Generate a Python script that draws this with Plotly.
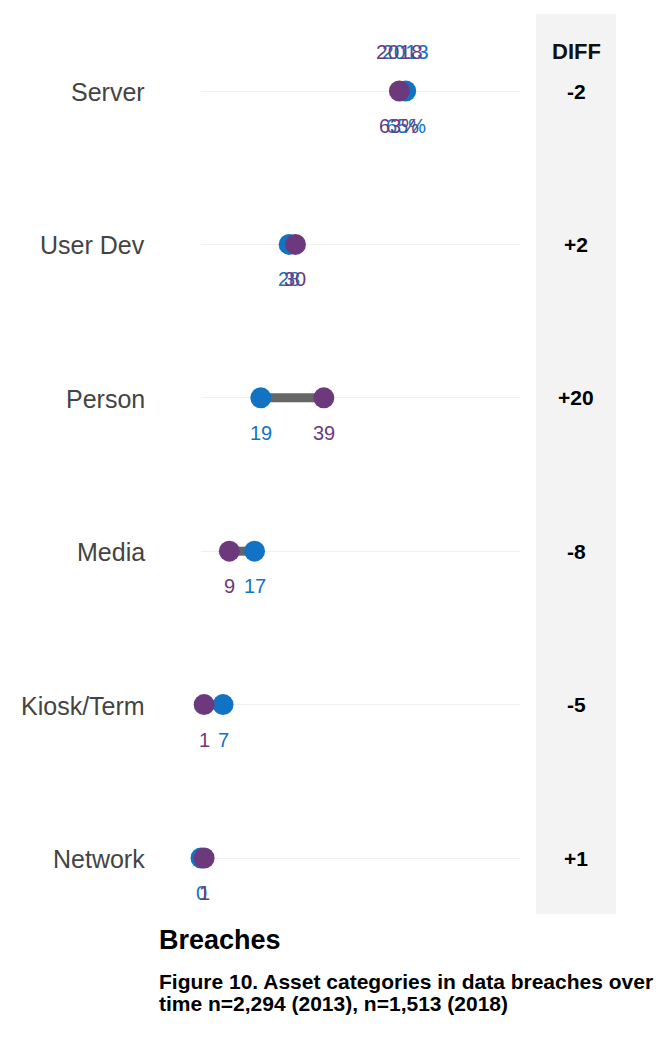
import plotly.graph_objects as go

categories = ["Server", "User Dev", "Person", "Media", "Kiosk/Term", "Network"]
values_2013 = [65, 28, 19, 17, 7, 0]
values_2018 = [63, 30, 39, 9, 1, 1]
label_2013 = ["65%", "28", "19", "17", "7", "0"]
label_2018 = ["63%", "30", "39", "9", "1", "1"]
diffs = ["-2", "+2", "+20", "-8", "-5", "+1"]
title_text = "Breaches"
subtitle_lines = ["Figure 10. Asset categories in data breaches over",
                  "time n=2,294 (2013), n=1,513 (2018)"]

BLUE = "#1273c5"
PURPLE = "#6c3a7c"
GRAY_LINE = "#666666"
FONT = "Liberation Sans, Arial, sans-serif"

W, H = 672, 1056
x0_px, x1_px = 201, 520
row_top, row_step = 91, 153.4
y_top_px = row_top - row_step / 2
y_bot_px = y_top_px + row_step * len(categories)

fig = go.Figure()

# connecting lines
for c, a, b in zip(categories, values_2013, values_2018):
    fig.add_trace(go.Scatter(x=[a, b], y=[c, c], mode="lines", cliponaxis=False,
                             line=dict(color=GRAY_LINE, width=9),
                             showlegend=False, hoverinfo="skip"))

fig.add_trace(go.Scatter(x=values_2013, y=categories, mode="markers", cliponaxis=False,
                         marker=dict(color=BLUE, size=21, line=dict(width=0)),
                         name="2013", showlegend=False))
fig.add_trace(go.Scatter(x=values_2018, y=categories, mode="markers", cliponaxis=False,
                         marker=dict(color=PURPLE, size=21, line=dict(width=0)),
                         name="2018", showlegend=False))

annotations = []
for c, v, t in zip(categories, values_2013, label_2013):
    annotations.append(dict(x=v, y=c, xref="x", yref="y", text=t, showarrow=False,
                            yshift=-35, font=dict(family=FONT, size=20, color=BLUE)))
for c, v, t in zip(categories, values_2018, label_2018):
    annotations.append(dict(x=v, y=c, xref="x", yref="y", text=t, showarrow=False,
                            yshift=-35, font=dict(family=FONT, size=20, color=PURPLE)))

# year labels above the first row
annotations.append(dict(x=values_2013[0], y=categories[0], xref="x", yref="y", text="2013",
                        showarrow=False, yshift=40, font=dict(family=FONT, size=21, color=BLUE)))
annotations.append(dict(x=values_2018[0], y=categories[0], xref="x", yref="y", text="2018",
                        showarrow=False, yshift=40, font=dict(family=FONT, size=21, color=PURPLE)))

# category labels
for c in categories:
    annotations.append(dict(x=147 / W, y=c, xref="paper", yref="y", text=c, showarrow=False,
                            xanchor="right", yshift=-1,
                            font=dict(family=FONT, size=25, color="#444444")))

# diff column
for c, d in zip(categories, diffs):
    annotations.append(dict(x=576 / W, y=c, xref="paper", yref="y", text="<b>" + d + "</b>",
                            showarrow=False, xanchor="center",
                            font=dict(family=FONT, size=21, color="#000000")))
annotations.append(dict(x=576 / W, y=categories[0], xref="paper", yref="y", text="<b>DIFF</b>",
                        showarrow=False, xanchor="center", yshift=40,
                        font=dict(family=FONT, size=22, color="#111111")))

# titles
annotations.append(dict(x=157 / W, y=1 - 940 / H, xref="paper", yref="paper",
                        text="<b>" + title_text + "</b>", showarrow=False,
                        xanchor="left", yanchor="middle",
                        font=dict(family=FONT, size=27, color="#000000")))
for i, line in enumerate(subtitle_lines):
    annotations.append(dict(x=157 / W, y=1 - (981 + 22 * i) / H, xref="paper", yref="paper",
                            text="<b>" + line + "</b>", showarrow=False,
                            xanchor="left", yanchor="middle", align="left",
                            font=dict(family=FONT, size=21, color="#000000")))

shapes = [dict(type="rect", xref="paper", yref="paper",
               x0=536 / W, x1=616 / W, y0=1 - 914 / H, y1=1 - 14 / H,
               fillcolor="#f3f3f3", line=dict(width=0), layer="below")]

fig.update_layout(
    width=W, height=H,
    margin=dict(l=0, r=0, t=0, b=0),
    paper_bgcolor="white", plot_bgcolor="white",
    annotations=annotations, shapes=shapes,
    xaxis=dict(domain=[x0_px / W, x1_px / W], range=[0, 101.3], showgrid=False,
               zeroline=False, showticklabels=False, showline=False, ticks=""),
    yaxis=dict(domain=[1 - y_bot_px / H, 1 - y_top_px / H], type="category",
               categoryorder="array", categoryarray=categories,
               range=[len(categories) - 0.5, -0.5], showgrid=True, gridcolor="#f0f0f0",
               gridwidth=1, zeroline=False, showticklabels=False, showline=False, ticks=""),
)

fig.write_html("out.html")
